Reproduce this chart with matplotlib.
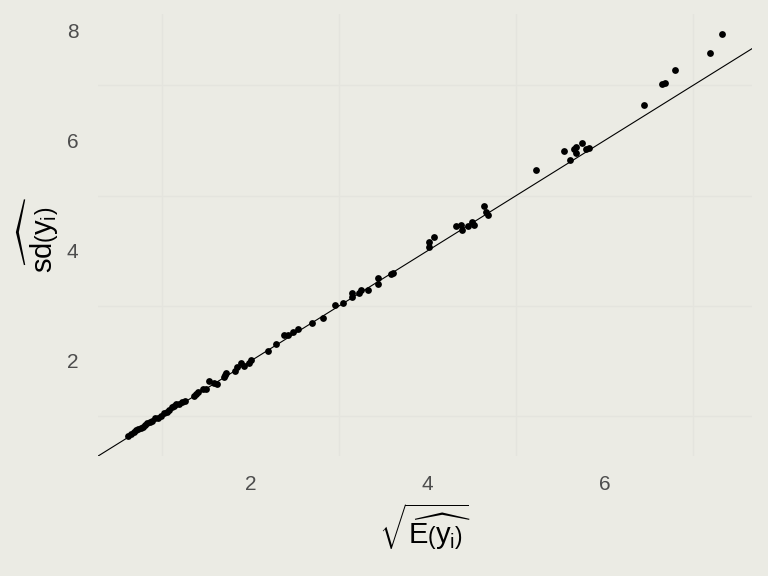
import matplotlib
matplotlib.use('Agg')
import matplotlib.pyplot as plt
from matplotlib.ticker import FixedLocator

plt.rcParams['font.family'] = ['Liberation Sans', 'DejaVu Sans']
plt.rcParams['mathtext.fontset'] = 'custom'
plt.rcParams['mathtext.rm'] = 'Liberation Sans'
plt.rcParams['mathtext.it'] = 'Liberation Sans'

# sqrt of estimated mean vs estimated sd
mean_sqrt = [0.61, 0.65, 0.68, 0.70, 0.73, 0.76, 0.78, 0.81, 0.83, 0.86,
             0.88, 0.92, 0.95, 0.99, 1.02, 1.05, 1.08, 1.11, 1.13, 1.15,
             1.19, 1.22, 1.26, 1.36, 1.38, 1.40, 1.46, 1.49, 1.53, 1.58,
             1.62, 1.70, 1.71, 1.72, 1.82, 1.84, 1.89, 1.92, 1.98, 2.00,
             2.19, 2.29, 2.38, 2.42, 2.48, 2.54, 2.69, 2.82,
             2.95, 3.04, 3.14, 3.14, 3.22, 3.25, 3.32, 3.44, 3.44, 3.58, 3.61,
             4.02, 4.02, 4.07, 4.32, 4.39, 4.38, 4.46, 4.50, 4.52, 4.64, 4.66, 4.68,
             5.22, 5.54, 5.61, 5.65, 5.68, 5.68, 5.74, 5.79, 5.82,
             6.44, 6.65, 6.68, 6.79, 7.19, 7.33]
sd_hat = [0.64, 0.67, 0.71, 0.75, 0.76, 0.78, 0.80, 0.84, 0.87, 0.89,
          0.91, 0.96, 0.96, 1.00, 1.05, 1.07, 1.11, 1.16, 1.18, 1.22,
          1.22, 1.25, 1.27, 1.36, 1.40, 1.44, 1.49, 1.49, 1.64, 1.60,
          1.58, 1.71, 1.75, 1.78, 1.82, 1.89, 1.96, 1.91, 1.96, 2.02,
          2.18, 2.31, 2.47, 2.47, 2.53, 2.58, 2.69, 2.78,
          3.02, 3.05, 3.24, 3.16, 3.24, 3.29, 3.29, 3.51, 3.40, 3.58, 3.60,
          4.07, 4.16, 4.24, 4.44, 4.38, 4.47, 4.44, 4.53, 4.47, 4.82, 4.71, 4.65,
          5.47, 5.80, 5.65, 5.84, 5.89, 5.78, 5.95, 5.85, 5.87,
          6.65, 7.02, 7.05, 7.27, 7.58, 7.93]

bg = '#EBEBE4'
fig = plt.figure(figsize=(7.68, 5.76), dpi=100, facecolor=bg)
ax = fig.add_axes([0.1276, 0.2083, 0.8516, 0.7674], facecolor=bg)

ax.scatter(mean_sqrt, sd_hat, s=24, color='black', linewidths=0, zorder=3)
ax.margins(0.05)
xlim = ax.get_xlim()
ylim = ax.get_ylim()
ax.axline((0, 0), slope=1, color='black', linewidth=0.8, zorder=2)
ax.set_xlim(xlim)
ax.set_ylim(ylim)

ax.set_xticks([2, 4, 6])
ax.set_yticks([2, 4, 6, 8])
ax.xaxis.set_minor_locator(FixedLocator([1, 3, 5, 7]))
ax.yaxis.set_minor_locator(FixedLocator([1, 3, 5, 7]))
ax.grid(which='minor', color='#E4E4DE', linewidth=1.0)
ax.grid(which='major', visible=False)
ax.tick_params(which='both', length=0, labelsize=15, labelcolor='#4D4D4D')
ax.tick_params(axis='x', pad=14)
ax.tick_params(axis='y', pad=14)
for s in ax.spines.values():
    s.set_visible(False)

ax.set_xlabel(r'$\sqrt{\widehat{\mathrm{E}\left(y_{i}\right)}}$', fontsize=21, labelpad=5)
ax.set_ylabel(r'$\widehat{\mathrm{sd}\left(y_{i}\right)}$', fontsize=21, labelpad=4)

fig.savefig('out.png', dpi=100, facecolor=bg)
